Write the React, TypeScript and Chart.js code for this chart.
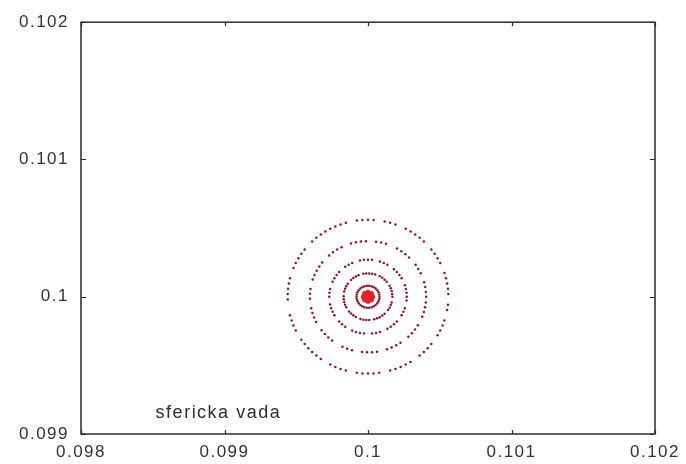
import React, { useEffect, useRef } from "react";
import { Chart, registerables } from "chart.js";

Chart.register(...registerables);

// Axis ticks
const xTickValues = [0.098, 0.099, 0.1, 0.101, 0.102];
const yTickValues = [0.099, 0.1, 0.101, 0.102];

// Spot centre (image point)
const centerX = 0.1;
const centerY = 0.1;

// Ring radii of the spot diagram (axis units), outermost first
const ringRadii = [0.00056, 0.000405, 0.00027, 0.00017, 0.00008];

// Polar angles (degrees) of the ray hits on each ring
const ring1Angles = [
  2, 6, 10, 14, 18, 26, 30, 34, 38, 46, 50, 54, 58, 62, 70, 74, 78, 86, 90, 94, 98,
  106, 110, 114, 118, 122, 126, 130, 134, 142, 146, 150, 154, 158, 166, 170, 174, 178, 182,
  194, 198, 202, 206, 214, 218, 222, 226, 230, 234, 242, 246, 250, 254, 262, 266, 270, 274, 278,
  286, 290, 294, 298, 302, 310, 314, 318, 322, 330, 334, 338, 342, 350, 354,
];
const ring2Angles = [
  0, 5, 10, 15, 25, 30, 35, 45, 50, 55, 60, 72, 77, 82, 92, 97, 102, 107, 117, 122, 127, 132,
  142, 147, 152, 157, 162, 172, 177, 182, 192, 197, 202, 207, 217, 222, 227, 232, 244, 249, 254,
  264, 269, 274, 279, 289, 294, 299, 304, 314, 319, 324, 329, 339, 344, 349, 354,
];
const ring3Angles = [
  0, 6, 12, 18, 30, 36, 42, 48, 60, 66, 72, 84, 90, 96, 102, 114, 120, 126, 138, 144, 150, 156,
  168, 174, 180, 192, 198, 204, 210, 222, 228, 234, 246, 252, 258, 264, 276, 282, 288, 300, 306,
  312, 318, 330, 336, 342, 354,
];
const ring4Angles = [
  0, 7, 14, 21, 28, 40, 47, 54, 61, 73, 80, 87, 94, 101, 113, 120, 127, 134, 146, 153, 160, 167,
  179, 186, 193, 200, 207, 219, 226, 233, 240, 252, 259, 266, 273, 285, 292, 299, 306, 313, 325,
  332, 339, 346,
];
const ring5Angles = [
  0, 12, 24, 36, 48, 60, 72, 84, 96, 108, 120, 132, 144, 156, 168, 180, 192, 204, 216, 228, 240,
  252, 264, 276, 288, 300, 312, 324, 336, 348,
];
const ringAngles = [ring1Angles, ring2Angles, ring3Angles, ring4Angles, ring5Angles];

// Dense core of the spot: radius and angles of the innermost hits
const coreRadii = [0, 0.00002, 0.000032];
const coreAngles = [0, 45, 90, 135, 180, 225, 270, 315];

const annotationText = "sfericka vada";
const annotationX = 0.09852;
const annotationY = 0.09915;

const toPoint = (r: number, deg: number) => ({
  x: centerX + r * Math.cos((deg * Math.PI) / 180),
  y: centerY + r * Math.sin((deg * Math.PI) / 180),
});

const fmt = (v: number) => String(Number(v.toFixed(3)));

const FONT_FAMILY = "'Liberation Sans', Arial, sans-serif";

const framePlugin = {
  id: "frameTicks",
  beforeDraw(chart: any) {
    // slightly spaced glyphs for all axis text
    chart.ctx.letterSpacing = "1.5px";
  },
  afterDraw(chart: any) {
    const { ctx, chartArea, scales } = chart;
    const { left, right, top, bottom } = chartArea;
    const xs = scales.x;
    const ys = scales.y;
    ctx.save();
    ctx.strokeStyle = "#2b2b2b";
    ctx.lineWidth = 1.5;
    ctx.strokeRect(left, top, right - left, bottom - top);
    ctx.lineWidth = 1.2;
    ctx.beginPath();
    xTickValues.forEach((v) => {
      const px = Math.round(xs.getPixelForValue(v)) + 0.5;
      ctx.moveTo(px, bottom);
      ctx.lineTo(px, bottom - 4);
      ctx.moveTo(px, top);
      ctx.lineTo(px, top + 4);
    });
    yTickValues.forEach((v) => {
      const py = Math.round(ys.getPixelForValue(v)) + 0.5;
      ctx.moveTo(left, py);
      ctx.lineTo(left + 5, py);
      ctx.moveTo(right, py);
      ctx.lineTo(right - 5, py);
    });
    ctx.stroke();
    ctx.fillStyle = "#2e2e2e";
    ctx.font = `18px ${FONT_FAMILY}`;
    ctx.letterSpacing = "1.5px";
    ctx.textAlign = "left";
    ctx.textBaseline = "middle";
    ctx.fillText(annotationText, xs.getPixelForValue(annotationX), ys.getPixelForValue(annotationY));
    ctx.restore();
    ctx.letterSpacing = "0px";
  },
};

export default function App() {
  const canvasRef = useRef<HTMLCanvasElement | null>(null);

  useEffect(() => {
    if (!canvasRef.current) return;
    const ringPoints = ringAngles.flatMap((angles, i) =>
      angles.map((a) => toPoint(ringRadii[i], a))
    );
    const corePoints = coreRadii.flatMap((r) => coreAngles.map((a) => toPoint(r, a)));

    const tickFont = { family: FONT_FAMILY, size: 17 };
    const chart = new Chart(canvasRef.current, {
      type: "scatter",
      data: {
        datasets: [
          {
            label: "rings",
            data: ringPoints,
            pointRadius: 1.25,
            pointBorderWidth: 0,
            pointBackgroundColor: "#861a2c",
          },
          {
            label: "core",
            data: corePoints,
            pointRadius: 2.6,
            pointBorderWidth: 0,
            pointBackgroundColor: "#e2232b",
          },
        ],
      },
      options: {
        animation: false,
        responsive: false,
        layout: { padding: { top: 19, right: 31, left: 0, bottom: 0 } },
        plugins: { legend: { display: false }, tooltip: { enabled: false } },
        scales: {
          x: {
            type: "linear",
            min: 0.098,
            max: 0.102,
            afterBuildTicks: (s: any) => {
              s.ticks = xTickValues.map((v) => ({ value: v }));
            },
            afterFit: (s: any) => {
              s.height = 30;
            },
            grid: { display: false, drawTicks: false },
            border: { display: false },
            ticks: {
              padding: 8,
              maxRotation: 0,
              color: "#333333",
              font: tickFont,
              callback: (v: any) => fmt(Number(v)),
            },
          },
          y: {
            type: "linear",
            min: 0.099,
            max: 0.102,
            afterBuildTicks: (s: any) => {
              s.ticks = yTickValues.map((v) => ({ value: v }));
            },
            afterFit: (s: any) => {
              s.width = 81;
            },
            grid: { display: false, drawTicks: false },
            border: { display: false },
            ticks: {
              padding: 12,
              color: "#333333",
              font: tickFont,
              callback: (v: any) => fmt(Number(v)),
            },
          },
        },
      },
      plugins: [framePlugin],
    });
    return () => chart.destroy();
  }, []);

  return (
    <div style={{ position: "fixed", left: 0, top: 0, width: 686, height: 464, background: "#fff" }}>
      <canvas ref={canvasRef} width={686} height={464} />
    </div>
  );
}
